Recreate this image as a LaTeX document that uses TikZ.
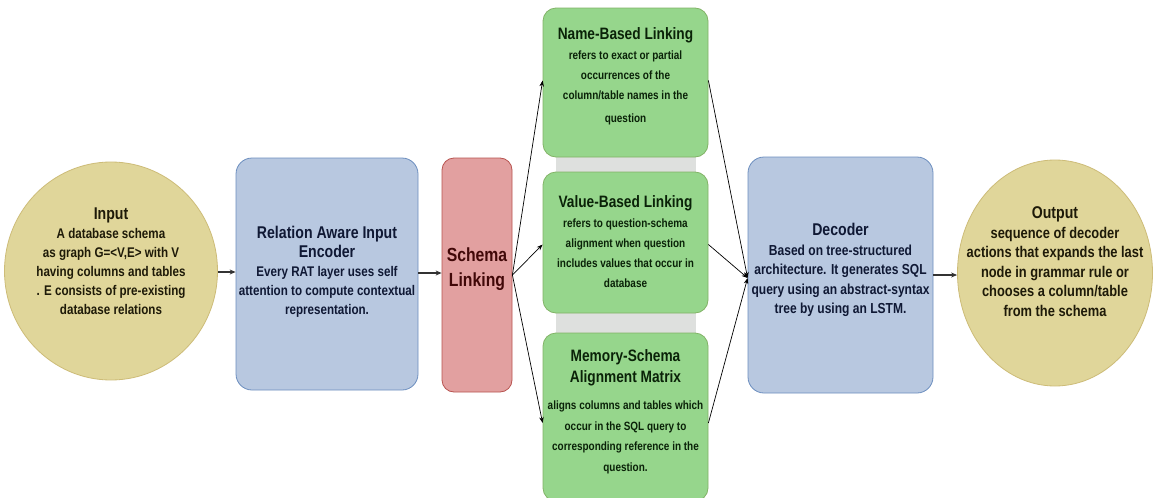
\documentclass[tikz,border=0pt]{standalone}
\usepackage{fontspec}
\setmainfont{Liberation Sans}[FakeStretch=0.83]
\usetikzlibrary{shapes.geometric,arrows.meta}
\definecolor{ellfill}{RGB}{224,214,154}
\definecolor{elldraw}{RGB}{205,188,120}
\definecolor{ellText}{RGB}{30,26,8}
\definecolor{bluefill}{RGB}{184,200,224}
\definecolor{bluedraw}{RGB}{108,142,191}
\definecolor{blueText}{RGB}{15,24,52}
\definecolor{redfill}{RGB}{226,160,160}
\definecolor{reddraw}{RGB}{184,84,80}
\definecolor{redText}{RGB}{65,8,8}
\definecolor{greenfill}{RGB}{150,214,140}
\definecolor{greendraw}{RGB}{130,179,102}
\definecolor{greenText}{RGB}{10,34,8}
\definecolor{bandgrey}{RGB}{222,224,222}
\begin{document}
\begin{tikzpicture}[x=1pt,y=-1pt,
  ellnode/.style={ellipse,fill=ellfill,draw=elldraw,line width=0.8pt,inner sep=0pt},
  bluebox/.style={rectangle,rounded corners=16pt,fill=bluefill,draw=bluedraw,line width=0.8pt},
  redbox/.style={rectangle,rounded corners=12pt,fill=redfill,draw=reddraw,line width=0.8pt},
  greenbox/.style={rectangle,rounded corners=13pt,fill=greenfill,draw=greendraw,line width=0.8pt,minimum width=165pt},
  txt/.style={align=center,inner sep=0pt,font=\bfseries},
  flow/.style={-{Stealth[length=6pt,width=5pt]},line width=1.3pt,draw=black!80},
  link/.style={-{Stealth[length=6pt,width=4.5pt]},line width=0.7pt,draw=black}]
\useasboundingbox (0,0) rectangle (1157,498);
\fill[white] (0,0) rectangle (1157,498);
% grey bands behind the linking boxes
\fill[bandgrey] (556,150) rectangle (696,180);
\fill[bandgrey] (556,305) rectangle (696,340);
% input
\node[ellnode,minimum width=213pt,minimum height=218pt] (inp) at (111,271) {};
\node[txt,text=ellText,font=\bfseries\fontsize{14}{19}\selectfont] (inpt) at (111,261)
 {{\fontsize{17}{19}\selectfont Input}\\A database schema\\as graph G=<V,E> with V\\having columns and tables\\. E consists of pre-existing\\database relations};
% encoder
\node[bluebox,minimum width=182pt,minimum height=232pt] (enc) at (327,274) {};
\node[txt,text=blueText,font=\bfseries\fontsize{14}{19}\selectfont] (enct) at (327,271.5)
 {{\fontsize{17}{19}\selectfont Relation Aware Input}\\{\fontsize{17}{19}\selectfont Encoder}\\Every RAT layer uses self\\attention to compute contextual\\representation.};
% schema linking
\node[redbox,minimum width=70pt,minimum height=234pt] (sch) at (477,275) {};
\node[txt,text=redText,font=\bfseries\fontsize{19}{25}\selectfont] (scht) at (477,269) {Schema\\Linking};
% linking boxes
\node[greenbox,minimum height=149pt] (nbl) at (625.5,82.5) {};
\node[txt,text=greenText,font=\bfseries\fontsize{12}{20}\selectfont] (nblt) at (625.5,76.5)
 {{\fontsize{16.5}{19}\selectfont Name-Based Linking}\\refers to exact or partial\\occurrences of the\\column/table names in the\\[3pt]question};
\node[greenbox,minimum height=141pt] (vbl) at (625.5,242.5) {};
\node[txt,text=greenText,font=\bfseries\fontsize{12}{20}\selectfont] (vblt) at (625.5,241.5)
 {{\fontsize{16.5}{19}\selectfont Value-Based Linking}\\refers to question-schema\\alignment when question\\includes values that occur in\\database};
\node[greenbox,minimum height=168pt] (msa) at (625.5,417) {};
\node[txt,text=greenText,font=\bfseries\fontsize{12}{20.5}\selectfont] (msat) at (625.5,412)
 {{\fontsize{16.5}{22}\selectfont Memory-Schema}\\{\fontsize{16.5}{22}\selectfont Alignment Matrix}\\[7pt]aligns columns and tables which\\occur in the SQL query to\\corresponding reference in the\\question.};
% decoder
\node[bluebox,minimum width=185pt,minimum height=236pt] (dec) at (840.5,275) {};
\node[txt,text=blueText,font=\bfseries\fontsize{14.5}{19.5}\selectfont] (dect) at (840.5,270)
 {{\fontsize{17}{19.5}\selectfont Decoder}\\Based on tree-structured\\architecture. It generates SQL\\query using an abstract-syntax\\tree by using an LSTM.};
% output
\node[ellnode,minimum width=195pt,minimum height=226pt] (out) at (1055,273) {};
\node[txt,text=ellText,font=\bfseries\fontsize{15.5}{19.5}\selectfont] (outt) at (1055,261.5)
 {{\fontsize{17}{19.5}\selectfont Output}\\sequence of decoder\\actions that expands the last\\node in grammar rule or\\chooses a column/table\\from the schema};
% connectors
\draw[flow] (inp.east |- 0,272) coordinate (a1) -- (enc.west |- a1);
\draw[flow] (enc.east |- 0,273) coordinate (a2) -- (sch.west |- a2);
\draw[link] (sch.east) -- ([yshift=2pt]nbl.west);
\draw[link] (sch.east) -- ([yshift=-2pt]vbl.west);
\draw[link] (sch.east) -- ([yshift=-6pt]msa.west);
\draw[link] ([yshift=2pt]nbl.east) -- ([yshift=-3pt]dec.west);
\draw[link] ([yshift=-2pt]vbl.east) -- ([yshift=-3pt]dec.west);
\draw[link] ([yshift=-6pt]msa.east) -- ([yshift=-3pt]dec.west);
\draw[flow] (dec.east |- 0,275) coordinate (a3) -- (out.west |- a3);
\end{tikzpicture}
\end{document}
